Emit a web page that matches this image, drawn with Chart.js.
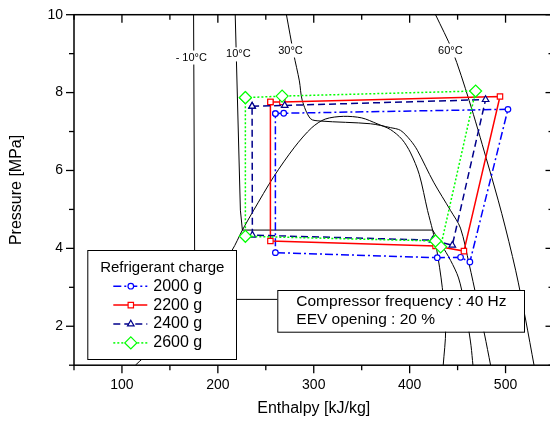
<!DOCTYPE html>
<html><head><meta charset="utf-8">
<script src="https://cdn.jsdelivr.net/npm/chart.js@4/dist/chart.umd.min.js"></script>
<style>html,body{margin:0;padding:0;overflow:hidden;background:#fff}</style>
</head><body>
<canvas id="c" width="565" height="421" style="display:block"></canvas>
<script>
// ---- tick labels ----
const xTickLabels = [100, 200, 300, 400, 500];
const yTickLabels = [2, 4, 6, 8, 10];
// ---- cycle data (enthalpy kJ/kg, pressure MPa), closed loops ----
const seriesNames = ['2000 g', '2200 g', '2400 g', '2600 g'];
const h2000 = [260.0, 268.7, 502.5, 462.8, 453.1, 428.8, 260.0, 260.0];
const p2000 = [7.46, 7.47, 7.57, 3.65, 3.77, 3.76, 3.89, 7.46];
const h2200 = [254.8, 267.3, 494.2, 456.6, 427.0, 254.8, 254.8];
const p2200 = [7.76, 7.76, 7.90, 3.93, 4.06, 4.19, 7.76];
const h2400 = [235.7, 269.7, 479.2, 444.5, 423.9, 236.0, 235.7];
const p2400 = [7.65, 7.67, 7.82, 4.08, 4.21, 4.34, 7.65];
const h2600 = [228.7, 267.0, 468.8, 432.3, 427.0, 228.7, 228.7];
const p2600 = [7.87, 7.91, 8.04, 4.04, 4.19, 4.31, 7.87];
// ---- background property lines ----
const domeH = [114, 122, 138, 157, 176, 197, 214.8, 225.6, 237.4, 258, 280, 298, 312, 331, 350, 366, 380, 392, 401, 410, 418.7, 424, 428, 434, 437.5, 435];
const domeP = [1.0, 1.18, 1.5, 2.0, 2.69, 3.35, 3.95, 4.47, 4.98, 5.83, 6.6, 7.1, 7.32, 7.39, 7.35, 7.2, 7.05, 6.8, 6.45, 5.9, 4.97, 4.46, 4.0, 3.0, 1.9, 1.0];
const isoM10H = [174.7, 176, 437];
const isoM10P = [10, 2.69, 2.69];
const iso10H = [218.1, 223.5, 225.6, 424];
const iso10P = [10, 4.98, 4.47, 4.47];
const iso10vH = [424, 433, 442.7, 451, 457, 461, 464, 466];
const iso10vP = [4.47, 4.1, 3.69, 3.24, 2.6, 2.0, 1.5, 1.0];
const iso30H = [271.5, 279, 285, 288, 296.6, 307, 359, 380, 390.5, 401, 408, 425, 442.7, 453, 462, 470, 478, 484.4];
const iso30P = [10, 9, 8.3, 7.8, 7.33, 7.27, 7.2, 7.1, 7.03, 6.77, 6.52, 5.7, 4.97, 4.52, 3.6, 2.7, 1.8, 1.0];
const iso60H = [427, 444.5, 462, 480, 496, 510.5, 521, 529.7];
const iso60P = [10, 9.08, 7.8, 6.3, 4.9, 3.44, 2.16, 1.0];
const isoLabels = ['- 10°C', '10°C', '30°C', '60°C'];
const isoLabelH = [172.3, 221.4, 275.7, 442.4];
const isoLabelP = [8.90, 8.98, 9.08, 9.08];

const FONT = "'Liberation Sans', Arial, Helvetica, sans-serif";
const pts = (hs, ps) => hs.map((h, i) => ({x: h, y: ps[i]}));

const styles = [
  {color: '#0000ff', dash: [8, 3, 2, 3], pointStyle: 'circle', radius: 2.8},
  {color: '#ff0000', dash: [], pointStyle: 'rect', radius: 3.8},
  {color: '#00008b', dash: [7, 4], pointStyle: 'triangle', radius: 3.8},
  {color: '#00ff00', dash: [2, 2], pointStyle: 'rectRot', radius: 6}
];
const cycleH = [h2000, h2200, h2400, h2600];
const cycleP = [p2000, p2200, p2400, p2600];

const datasets = [];
cycleH.forEach((hs, i) => {
  const s = styles[i];
  datasets.push({
    label: seriesNames[i], data: pts(hs, cycleP[i]), showLine: true,
    borderColor: s.color, borderWidth: 1.5, borderDash: s.dash, tension: 0,
    pointStyle: s.pointStyle, pointRadius: s.radius, pointBorderColor: s.color,
    pointBackgroundColor: '#ffffff', pointBorderWidth: 1.2, order: 4 - i
  });
});
const bg = (hs, ps, t) => ({data: pts(hs, ps), showLine: true, borderColor: '#000', borderWidth: 1,
  pointRadius: 0, tension: t, order: 10});
datasets.push(bg(domeH, domeP, 0.3));
datasets.push(bg(isoM10H, isoM10P, 0));
datasets.push(bg(iso10H, iso10P, 0));
datasets.push(bg(iso10vH, iso10vP, 0.3));
datasets.push(bg(iso30H, iso30P, 0.3));
datasets.push(bg(iso60H, iso60P, 0.3));

const overlay = {
  id: 'overlay',
  afterDatasetsDraw(chart) {
    const {ctx, chartArea: a, scales: {x, y}} = chart;
    ctx.save();
    const line = (x1, y1, x2, y2) => { ctx.beginPath(); ctx.moveTo(x1, y1); ctx.lineTo(x2, y2); ctx.stroke(); };
    // isotherm labels
    ctx.font = '11px ' + FONT;
    ctx.textAlign = 'center'; ctx.textBaseline = 'middle';
    isoLabels.forEach((t, i) => {
      const px = x.getPixelForValue(isoLabelH[i]), py = y.getPixelForValue(isoLabelP[i]);
      const w = ctx.measureText(t).width;
      ctx.fillStyle = '#fff'; ctx.fillRect(px - w / 2 - 1, py - 7, w + 2, 14);
      ctx.fillStyle = '#000'; ctx.fillText(t, px, py);
    });
    // frame
    ctx.strokeStyle = '#000'; ctx.lineWidth = 1.5; ctx.setLineDash([]);
    ctx.strokeRect(a.left, a.top, a.right - a.left, a.bottom - a.top);
    ctx.lineWidth = 1.3;
    x.ticks.forEach(t => {
      const px = x.getPixelForValue(t.value);
      const L = xTickLabels.includes(t.value) ? 8 : 5;
      line(px, a.bottom, px, a.bottom + L);
      line(px, a.top, px, a.top + L);
    });
    y.ticks.forEach(t => {
      const py = y.getPixelForValue(t.value);
      const L = yTickLabels.includes(t.value) ? 8 : 5;
      line(a.left - L, py, a.left, py);
      line(a.right - L, py, a.right, py);
    });
    // legend box
    const lx = a.left + 13.3, ly = 250, lw = 148.7, lh = 109;
    ctx.fillStyle = '#fff'; ctx.fillRect(lx, ly, lw, lh);
    ctx.lineWidth = 1; ctx.strokeRect(lx + 0.5, ly + 0.5, lw, lh);
    ctx.fillStyle = '#000'; ctx.textAlign = 'center';
    ctx.font = '15px ' + FONT;
    ctx.fillText('Refrigerant charge', lx + 75, ly + 17.5);
    ctx.font = '16px ' + FONT; ctx.textAlign = 'left';
    seriesNames.forEach((n, i) => {
      const s = styles[i];
      const ry = ly + 36.2 + i * 18.9;
      ctx.strokeStyle = s.color; ctx.lineWidth = 1.5; ctx.setLineDash(s.dash);
      line(lx + 26, ry, lx + 60, ry);
      ctx.setLineDash([]);
      ctx.fillStyle = '#fff'; ctx.lineWidth = 1.2;
      Chart.helpers.drawPoint(ctx, {pointStyle: s.pointStyle, radius: s.radius, rotation: 0, borderWidth: 1.2}, lx + 43.5, ry);
      ctx.fillStyle = '#000';
      ctx.fillText(n, lx + 66, ry);
    });
    // annotation box
    const bx = 277.3, by = 290, bw = 246.7, bh = 41.7;
    ctx.fillStyle = '#fff'; ctx.fillRect(bx, by, bw, bh);
    ctx.strokeStyle = '#000'; ctx.lineWidth = 1; ctx.strokeRect(bx + 0.5, by + 0.5, bw, bh);
    ctx.fillStyle = '#000'; ctx.font = '15.5px ' + FONT;
    ctx.fillText('Compressor frequency : 40 Hz', bx + 19, by + 11.5);
    ctx.fillText('EEV opening : 20 %', bx + 19, by + 30);
    ctx.restore();
  }
};

new Chart(document.getElementById('c'), {
  type: 'scatter',
  data: {datasets},
  options: {
    responsive: false, animation: false, devicePixelRatio: 1,
    layout: {padding: {left: 0, top: 14.7, right: 0, bottom: 0}},
    plugins: {legend: {display: false}, tooltip: {enabled: false}},
    scales: {
      x: {
        type: 'linear', min: 50, max: 550,
        ticks: {stepSize: 50, autoSkip: false, maxRotation: 0, padding: 11.5, color: '#000',
          font: {family: FONT, size: 14}, callback: v => xTickLabels.includes(v) ? String(v) : ''},
        grid: {display: false, drawTicks: false}, border: {display: false},
        title: {display: true, text: 'Enthalpy [kJ/kg]', color: '#000', font: {family: FONT, size: 16},
          padding: {top: 0, bottom: 3}},
        afterFit: s => { s.height = 55.8; }
      },
      y: {
        type: 'linear', min: 1, max: 10,
        ticks: {stepSize: 1, autoSkip: false, padding: 11, color: '#000',
          font: {family: FONT, size: 14, lineHeight: 0.5}, callback: v => yTickLabels.includes(v) ? String(v) : ''},
        grid: {display: false, drawTicks: false}, border: {display: false},
        title: {display: true, text: 'Pressure [MPa]', color: '#000', font: {family: FONT, size: 16},
          padding: {top: 7, bottom: 0}},
        afterFit: s => { s.width = 74; }
      }
    }
  },
  plugins: [overlay]
});
</script>
</body></html>
